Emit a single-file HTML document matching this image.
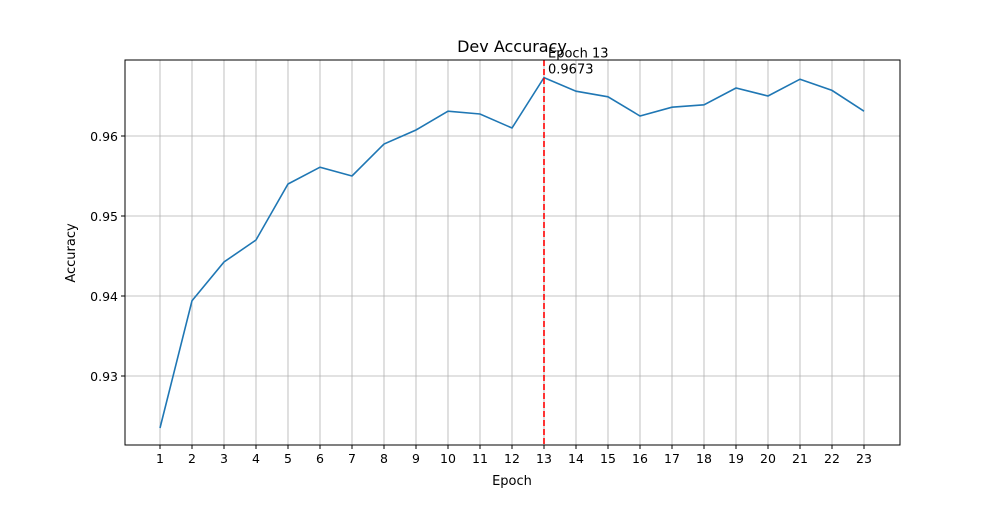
<!DOCTYPE html>
<html><head><meta charset="utf-8"><style>
body{margin:0;background:#fff;}
svg text{font-family:"DejaVu Sans","Liberation Sans",sans-serif;fill:#000;}
</style></head><body>
<svg id="chart" width="1000" height="500" xmlns="http://www.w3.org/2000/svg">
<rect x="0" y="0" width="1000" height="500" fill="#fff"/>
<g id="grid"></g>
<g id="marks"></g>
<rect x="125" y="60" width="775" height="385" fill="none" stroke="#000" stroke-width="1"/>
<g id="axes"></g>
<text x="512" y="52" font-size="16" text-anchor="middle">Dev Accuracy</text>
<text x="512" y="485" font-size="13" text-anchor="middle">Epoch</text>
<text x="0" y="0" font-size="13" text-anchor="middle" transform="translate(75,253) rotate(-90)">Accuracy</text>
</svg>
<script>
const epochs = [1,2,3,4,5,6,7,8,9,10,11,12,13,14,15,16,17,18,19,20,21,22,23];
const accuracy = [0.9235,0.9394,0.94425,0.947,0.954,0.9561,0.955,0.959,0.96075,0.9631,0.96275,0.961,0.9673,0.9656,0.9649,0.9625,0.9636,0.9639,0.966,0.965,0.9671,0.9657,0.9631];
const yTicks = [0.93,0.94,0.95,0.96];
const bestEpoch = 13;
const bestValue = 0.9673;

const NS="http://www.w3.org/2000/svg";
const L=125,R=900,T=60,B=445;
const xs = e => 160 + (e-1)*32;
const ys = v => 136 - (v-0.96)*8000;
function mk(tag,attrs,parent,text){const el=document.createElementNS(NS,tag);for(const k in attrs)el.setAttribute(k,attrs[k]);if(text!==undefined)el.textContent=text;parent.appendChild(el);return el;}
const grid=document.getElementById('grid'),axes=document.getElementById('axes'),marks=document.getElementById('marks');
epochs.forEach(e=>{
  const x=xs(e);
  const g=mk('line',{x1:x,x2:x,y1:T,y2:B,stroke:'#b0b0b0','stroke-width':0.8},grid);
  
  
  mk('line',{x1:x,x2:x,y1:B,y2:B+4,stroke:'#000'},axes);
  const t=mk('text',{x:x,y:B+18,'font-size':12.5,'text-anchor':'middle'},axes,String(e));
  
  
});
yTicks.forEach(v=>{
  const y=ys(v);
  const g=mk('line',{x1:L,x2:R,y1:y,y2:y,stroke:'#b0b0b0','stroke-width':0.8},grid);
  
  
  mk('line',{x1:L-4,x2:L,y1:y,y2:y,stroke:'#000'},axes);
  const t=mk('text',{x:L-7,y:y+5,'font-size':12.5,'text-anchor':'end'},axes,v.toFixed(2));
  
  
});
const pts=epochs.map((e,i)=>xs(e)+','+ys(accuracy[i])).join(' ');
const line=mk('polyline',{points:pts,fill:'none',stroke:'#1f77b4','stroke-width':1.6},marks);


const bx=xs(bestEpoch);
const vl=mk('line',{x1:bx,x2:bx,y1:T,y2:B,stroke:'#ff0000','stroke-width':1.6,'stroke-dasharray':'6,3'},marks);


const a1=mk('text',{x:bx+4,y:ys(bestValue)-20,'font-size':13},marks,'Epoch '+bestEpoch);


const a2=mk('text',{x:bx+4,y:ys(bestValue)-4,'font-size':13},marks,bestValue.toFixed(4));


</script>
</body></html>
